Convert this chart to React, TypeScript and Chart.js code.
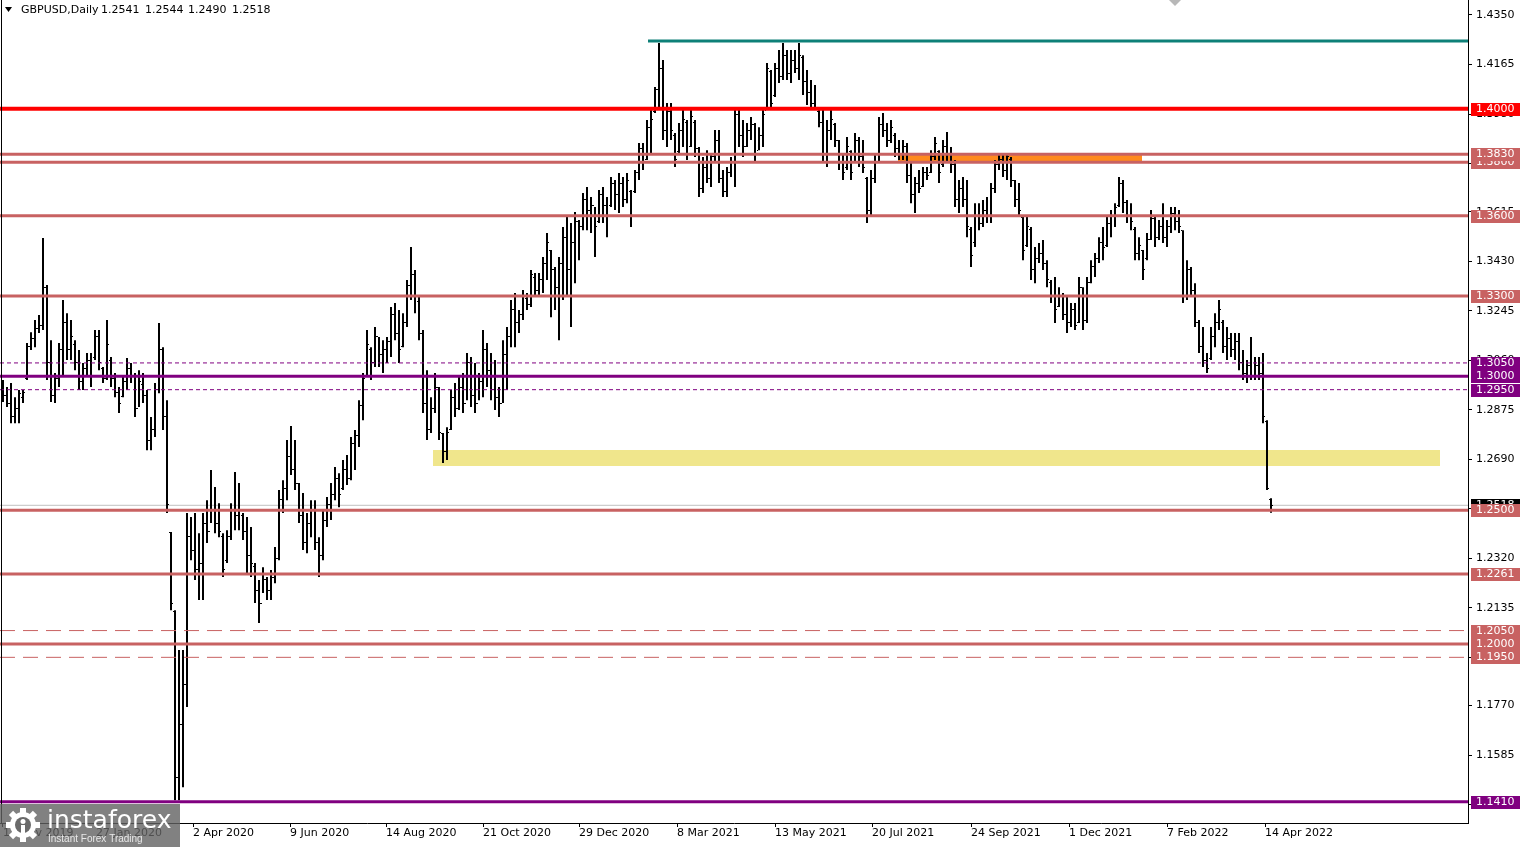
import React, { useEffect, useRef } from 'react';
import { Chart, registerables } from 'chart.js';

Chart.register(...registerables);

// ---- Data (2-day OHLC bars, GBPUSD) ----
const opens = [
  1.2960, 1.2930, 1.2900, 1.2850, 1.2880, 1.2920, 1.2990, 1.3110, 1.3140, 1.3180,
  1.3190, 1.3330, 1.3050, 1.2930, 1.2990, 1.3100, 1.3200, 1.3100, 1.3120, 1.3050,
  1.2980, 1.3030, 1.3060, 1.3070, 1.3150, 1.3030, 1.2990, 1.3060, 1.2990, 1.2940,
  1.2925, 1.2980, 1.3030, 1.3000, 1.2880, 1.2970, 1.2930, 1.2760, 1.2800, 1.2950,
  1.3100, 1.2850, 1.2418, 1.2120, 1.1500, 1.1700, 1.1850, 1.2400, 1.2350, 1.2280,
  1.2300, 1.2450, 1.2420, 1.2500, 1.2450, 1.2400, 1.2310, 1.2400, 1.2500, 1.2480,
  1.2480, 1.2420, 1.2330, 1.2290, 1.2200, 1.2150, 1.2240, 1.2200, 1.2250, 1.2320,
  1.2540, 1.2580, 1.2700, 1.2650, 1.2600, 1.2480, 1.2380, 1.2450, 1.2500, 1.2380,
  1.2330, 1.2460, 1.2520, 1.2560, 1.2620, 1.2580, 1.2650, 1.2620, 1.2750, 1.2780,
  1.2890, 1.3000, 1.3100, 1.3050, 1.3150, 1.3080, 1.3100, 1.3130, 1.3230, 1.3160,
  1.3110, 1.3200, 1.3340, 1.3380, 1.3280, 1.3160, 1.2900, 1.2800, 1.2880, 1.2960,
  1.2785, 1.2720, 1.2800, 1.2920, 1.2880, 1.2960, 1.2900, 1.3050, 1.2930, 1.2900,
  1.2980, 1.3100, 1.3020, 1.2950, 1.2920, 1.2900, 1.3080, 1.3150, 1.3250, 1.3200,
  1.3230, 1.3290, 1.3270, 1.3370, 1.3320, 1.3360, 1.3420, 1.3470, 1.3400, 1.3330,
  1.3420, 1.3520, 1.3400, 1.3500, 1.3580, 1.3560, 1.3660, 1.3620, 1.3640, 1.3580,
  1.3680, 1.3640, 1.3640, 1.3720, 1.3680, 1.3720, 1.3660, 1.3690, 1.3690, 1.3760,
  1.3850, 1.3810, 1.3930, 1.3990, 1.4070, 1.4150, 1.3920, 1.3990, 1.3900, 1.3840,
  1.3920, 1.3950, 1.3860, 1.3950, 1.3850, 1.3700, 1.3780, 1.3740, 1.3820, 1.3880,
  1.3740, 1.3690, 1.3760, 1.3800, 1.3980, 1.3900, 1.3860, 1.3920, 1.3940, 1.3845,
  1.3900, 1.3995, 1.4140, 1.4050, 1.4150, 1.4120, 1.4200, 1.4130, 1.4180, 1.4150,
  1.4190, 1.4100, 1.4060, 1.4020, 1.3990, 1.3950, 1.3830, 1.3920, 1.3940, 1.3880,
  1.3800, 1.3780, 1.3840, 1.3800, 1.3880, 1.3820, 1.3740, 1.3620, 1.3740, 1.3800,
  1.3940, 1.3920, 1.3880, 1.3900, 1.3850, 1.3830, 1.3860, 1.3750, 1.3680, 1.3720,
  1.3710, 1.3760, 1.3760, 1.3820, 1.3840, 1.3790, 1.3860, 1.3830, 1.3790, 1.3660,
  1.3700, 1.3660, 1.3550, 1.3500, 1.3600, 1.3570, 1.3620, 1.3600, 1.3700, 1.3790,
  1.3810, 1.3770, 1.3810, 1.3730, 1.3660, 1.3595, 1.3490, 1.3550, 1.3400, 1.3440,
  1.3460, 1.3420, 1.3350, 1.3300, 1.3260, 1.3300, 1.3230, 1.3200, 1.3250, 1.3200,
  1.3330, 1.3210, 1.3350, 1.3410, 1.3440, 1.3500, 1.3490, 1.3570, 1.3600, 1.3640,
  1.3720, 1.3650, 1.3600, 1.3550, 1.3460, 1.3470, 1.3440, 1.3510, 1.3590, 1.3520,
  1.3560, 1.3520, 1.3560, 1.3610, 1.3580, 1.3546, 1.3300, 1.3400, 1.3320, 1.3200,
  1.3110, 1.3060, 1.3065, 1.3150, 1.3200, 1.3200, 1.3110, 1.3140, 1.3100, 1.3130,
  1.3050, 1.3010, 1.3040, 1.3000, 1.3040, 1.3010, 1.2830, 1.2541,
];

const highs = [
  1.2986, 1.2960, 1.2975, 1.2922, 1.2949, 1.2949, 1.3124, 1.3165, 1.3210, 1.3229,
  1.3517, 1.3341, 1.3135, 1.3012, 1.3124, 1.3285, 1.3236, 1.3210, 1.3135, 1.3098,
  1.3050, 1.3087, 1.3087, 1.3173, 1.3173, 1.3035, 1.3210, 1.3072, 1.3012, 1.2960,
  1.2997, 1.3068, 1.3050, 1.3012, 1.3023, 1.3012, 1.2949, 1.2848, 1.2975, 1.3199,
  1.3109, 1.2911, 1.2418, 1.2126, 1.1977, 1.1977, 1.2489, 1.2474, 1.2489, 1.2414,
  1.2489, 1.2537, 1.2650, 1.2586, 1.2526, 1.2414, 1.2425, 1.2526, 1.2642, 1.2601,
  1.2489, 1.2474, 1.2437, 1.2302, 1.2239, 1.2287, 1.2250, 1.2276, 1.2362, 1.2575,
  1.2612, 1.2762, 1.2814, 1.2762, 1.2601, 1.2564, 1.2489, 1.2537, 1.2537, 1.2399,
  1.2500, 1.2549, 1.2601, 1.2661, 1.2638, 1.2687, 1.2706, 1.2773, 1.2799, 1.2911,
  1.3012, 1.3173, 1.3109, 1.3184, 1.3147, 1.3135, 1.3147, 1.3259, 1.3274, 1.3248,
  1.3236, 1.3360, 1.3483, 1.3397, 1.3296, 1.3173, 1.3023, 1.2922, 1.3012, 1.2960,
  1.2788, 1.2810, 1.2949, 1.2975, 1.2997, 1.3012, 1.3087, 1.3072, 1.3050, 1.3012,
  1.3173, 1.3124, 1.3087, 1.3061, 1.2960, 1.3135, 1.3184, 1.3285, 1.3311, 1.3248,
  1.3322, 1.3311, 1.3397, 1.3386, 1.3386, 1.3446, 1.3535, 1.3472, 1.3408, 1.3446,
  1.3558, 1.3595, 1.3573, 1.3614, 1.3584, 1.3685, 1.3707, 1.3670, 1.3633, 1.3696,
  1.3707, 1.3670, 1.3745, 1.3733, 1.3760, 1.3745, 1.3760, 1.3696, 1.3771, 1.3872,
  1.3872, 1.3958, 1.3995, 1.4081, 1.4245, 1.4182, 1.4021, 1.4021, 1.3909, 1.3946,
  1.3995, 1.3958, 1.3995, 1.3958, 1.3857, 1.3819, 1.3845, 1.3834, 1.3920, 1.3920,
  1.3771, 1.3782, 1.3819, 1.4006, 1.4006, 1.3958, 1.3946, 1.3969, 1.3946, 1.3931,
  1.3995, 1.4171, 1.4144, 1.4171, 1.4219, 1.4245, 1.4219, 1.4219, 1.4219, 1.4245,
  1.4200, 1.4144, 1.4107, 1.4088, 1.4006, 1.3995, 1.3958, 1.3995, 1.3946, 1.3883,
  1.3834, 1.3894, 1.3845, 1.3909, 1.3894, 1.3883, 1.3745, 1.3771, 1.3834, 1.3969,
  1.3984, 1.3946, 1.3958, 1.3909, 1.3883, 1.3883, 1.3872, 1.3797, 1.3745, 1.3771,
  1.3782, 1.3782, 1.3845, 1.3894, 1.3845, 1.3883, 1.3913, 1.3857, 1.3808, 1.3733,
  1.3745, 1.3733, 1.3558, 1.3647, 1.3647, 1.3659, 1.3670, 1.3722, 1.3808, 1.3834,
  1.3834, 1.3834, 1.3819, 1.3733, 1.3722, 1.3595, 1.3595, 1.3558, 1.3483, 1.3498,
  1.3509, 1.3434, 1.3360, 1.3371, 1.3333, 1.3311, 1.3296, 1.3274, 1.3274, 1.3371,
  1.3333, 1.3371, 1.3434, 1.3461, 1.3520, 1.3558, 1.3595, 1.3621, 1.3647, 1.3745,
  1.3733, 1.3659, 1.3647, 1.3558, 1.3520, 1.3472, 1.3535, 1.3621, 1.3595, 1.3584,
  1.3647, 1.3584, 1.3633, 1.3633, 1.3621, 1.3546, 1.3434, 1.3408, 1.3348, 1.3210,
  1.3184, 1.3087, 1.3184, 1.3236, 1.3285, 1.3210, 1.3184, 1.3162, 1.3162, 1.3162,
  1.3098, 1.3061, 1.3147, 1.3072, 1.3072, 1.3087, 1.2836, 1.2544,
];

const lows = [
  1.2904, 1.2885, 1.2825, 1.2825, 1.2825, 1.2900, 1.2986, 1.3098, 1.3109, 1.3162,
  1.3173, 1.2986, 1.2904, 1.2900, 1.2960, 1.2997, 1.3061, 1.3061, 1.3023, 1.2949,
  1.2949, 1.2997, 1.2960, 1.3061, 1.3023, 1.2975, 1.2986, 1.2960, 1.2922, 1.2863,
  1.2922, 1.2949, 1.2975, 1.2848, 1.2885, 1.2900, 1.2724, 1.2724, 1.2773, 1.2937,
  1.2799, 1.2489, 1.2126, 1.1416, 1.1416, 1.1465, 1.1764, 1.2313, 1.2239, 1.2164,
  1.2164, 1.2377, 1.2452, 1.2414, 1.2399, 1.2250, 1.2302, 1.2388, 1.2425, 1.2425,
  1.2388, 1.2265, 1.2250, 1.2153, 1.2078, 1.2190, 1.2164, 1.2164, 1.2227, 1.2313,
  1.2489, 1.2537, 1.2631, 1.2575, 1.2452, 1.2351, 1.2339, 1.2399, 1.2351, 1.2250,
  1.2313, 1.2437, 1.2463, 1.2537, 1.2511, 1.2575, 1.2594, 1.2612, 1.2650, 1.2736,
  1.2836, 1.2997, 1.2986, 1.3035, 1.3035, 1.3012, 1.3050, 1.3072, 1.3135, 1.3050,
  1.3109, 1.3184, 1.3285, 1.3236, 1.3135, 1.2863, 1.2762, 1.2788, 1.2863, 1.2762,
  1.2676, 1.2687, 1.2799, 1.2848, 1.2874, 1.2863, 1.2911, 1.2885, 1.2863, 1.2911,
  1.2922, 1.2960, 1.2911, 1.2874, 1.2848, 1.2900, 1.2949, 1.3109, 1.3109, 1.3162,
  1.3210, 1.3248, 1.3259, 1.3296, 1.3296, 1.3311, 1.3360, 1.3221, 1.3248, 1.3135,
  1.3285, 1.3296, 1.3184, 1.3348, 1.3434, 1.3546, 1.3546, 1.3535, 1.3446, 1.3573,
  1.3573, 1.3520, 1.3633, 1.3621, 1.3610, 1.3633, 1.3647, 1.3558, 1.3685, 1.3733,
  1.3771, 1.3808, 1.3834, 1.3984, 1.4006, 1.3883, 1.3857, 1.3883, 1.3782, 1.3834,
  1.3857, 1.3808, 1.3857, 1.3819, 1.3670, 1.3685, 1.3722, 1.3707, 1.3797, 1.3722,
  1.3670, 1.3670, 1.3745, 1.3707, 1.3857, 1.3819, 1.3857, 1.3883, 1.3797, 1.3845,
  1.3857, 1.3995, 1.3995, 1.4044, 1.4096, 1.4107, 1.4107, 1.4096, 1.4133, 1.4107,
  1.4051, 1.4014, 1.3995, 1.3995, 1.3931, 1.3797, 1.3782, 1.3883, 1.3857, 1.3771,
  1.3733, 1.3771, 1.3733, 1.3797, 1.3782, 1.3760, 1.3573, 1.3595, 1.3722, 1.3797,
  1.3894, 1.3857, 1.3872, 1.3819, 1.3808, 1.3808, 1.3722, 1.3647, 1.3610, 1.3685,
  1.3707, 1.3733, 1.3760, 1.3808, 1.3722, 1.3782, 1.3797, 1.3760, 1.3633, 1.3610,
  1.3633, 1.3520, 1.3408, 1.3483, 1.3546, 1.3558, 1.3573, 1.3573, 1.3685, 1.3771,
  1.3745, 1.3733, 1.3707, 1.3633, 1.3595, 1.3434, 1.3483, 1.3360, 1.3348, 1.3423,
  1.3397, 1.3333, 1.3274, 1.3199, 1.3259, 1.3210, 1.3162, 1.3184, 1.3173, 1.3199,
  1.3173, 1.3199, 1.3348, 1.3371, 1.3423, 1.3434, 1.3483, 1.3520, 1.3558, 1.3633,
  1.3610, 1.3573, 1.3546, 1.3434, 1.3434, 1.3360, 1.3434, 1.3509, 1.3483, 1.3509,
  1.3498, 1.3483, 1.3535, 1.3546, 1.3535, 1.3274, 1.3285, 1.3296, 1.3184, 1.3087,
  1.3035, 1.3012, 1.3061, 1.3109, 1.3173, 1.3087, 1.3061, 1.3072, 1.3061, 1.3023,
  1.2986, 1.2975, 1.2986, 1.2986, 1.2986, 1.2825, 1.2575, 1.2490,
];

const closes = [
  1.2930, 1.2900, 1.2850, 1.2880, 1.2935, 1.2940, 1.3110, 1.3140, 1.3180, 1.3190,
  1.3330, 1.3050, 1.2930, 1.2990, 1.3100, 1.3200, 1.3100, 1.3150, 1.3050, 1.2980,
  1.3030, 1.3060, 1.3000, 1.3150, 1.3050, 1.2990, 1.3120, 1.2990, 1.2940, 1.2900,
  1.2980, 1.3030, 1.3000, 1.2880, 1.2980, 1.2930, 1.2760, 1.2800, 1.2950, 1.3100,
  1.2850, 1.2520, 1.2150, 1.1500, 1.1700, 1.1850, 1.2400, 1.2350, 1.2280, 1.2300,
  1.2450, 1.2420, 1.2500, 1.2450, 1.2420, 1.2280, 1.2400, 1.2500, 1.2480, 1.2500,
  1.2420, 1.2330, 1.2300, 1.2200, 1.2150, 1.2240, 1.2200, 1.2250, 1.2320, 1.2540,
  1.2580, 1.2700, 1.2650, 1.2600, 1.2480, 1.2380, 1.2450, 1.2500, 1.2380, 1.2330,
  1.2460, 1.2520, 1.2560, 1.2620, 1.2560, 1.2650, 1.2620, 1.2750, 1.2780, 1.2890,
  1.2990, 1.3120, 1.3050, 1.3150, 1.3080, 1.3100, 1.3130, 1.3230, 1.3160, 1.3100,
  1.3200, 1.3340, 1.3380, 1.3300, 1.3160, 1.2900, 1.2800, 1.2880, 1.2960, 1.2790,
  1.2720, 1.2790, 1.2920, 1.2880, 1.2960, 1.2900, 1.3050, 1.2930, 1.2900, 1.2980,
  1.3100, 1.3020, 1.2950, 1.2920, 1.2900, 1.3080, 1.3150, 1.3250, 1.3200, 1.3230,
  1.3300, 1.3270, 1.3380, 1.3320, 1.3360, 1.3420, 1.3500, 1.3400, 1.3330, 1.3420,
  1.3520, 1.3400, 1.3500, 1.3580, 1.3560, 1.3660, 1.3620, 1.3640, 1.3560, 1.3680,
  1.3640, 1.3600, 1.3720, 1.3680, 1.3720, 1.3660, 1.3730, 1.3600, 1.3760, 1.3850,
  1.3800, 1.3930, 1.3960, 1.4070, 1.4150, 1.3920, 1.3990, 1.3920, 1.3810, 1.3920,
  1.3960, 1.3830, 1.3970, 1.3850, 1.3700, 1.3780, 1.3740, 1.3820, 1.3880, 1.3740,
  1.3690, 1.3760, 1.3800, 1.3980, 1.3900, 1.3860, 1.3920, 1.3940, 1.3830, 1.3900,
  1.3980, 1.4150, 1.4020, 1.4150, 1.4120, 1.4200, 1.4130, 1.4180, 1.4150, 1.4200,
  1.4100, 1.4060, 1.4020, 1.4000, 1.3950, 1.3830, 1.3920, 1.3960, 1.3880, 1.3800,
  1.3760, 1.3860, 1.3760, 1.3880, 1.3820, 1.3780, 1.3620, 1.3740, 1.3800, 1.3940,
  1.3920, 1.3880, 1.3930, 1.3850, 1.3830, 1.3860, 1.3750, 1.3680, 1.3720, 1.3700,
  1.3760, 1.3750, 1.3820, 1.3870, 1.3760, 1.3860, 1.3830, 1.3790, 1.3660, 1.3700,
  1.3660, 1.3560, 1.3450, 1.3600, 1.3570, 1.3620, 1.3600, 1.3700, 1.3790, 1.3810,
  1.3770, 1.3820, 1.3730, 1.3660, 1.3620, 1.3470, 1.3560, 1.3400, 1.3440, 1.3460,
  1.3420, 1.3360, 1.3300, 1.3250, 1.3300, 1.3230, 1.3200, 1.3250, 1.3190, 1.3330,
  1.3210, 1.3350, 1.3410, 1.3440, 1.3500, 1.3480, 1.3570, 1.3600, 1.3630, 1.3720,
  1.3650, 1.3600, 1.3580, 1.3460, 1.3490, 1.3400, 1.3510, 1.3590, 1.3520, 1.3560,
  1.3520, 1.3560, 1.3610, 1.3580, 1.3560, 1.3300, 1.3400, 1.3320, 1.3200, 1.3110,
  1.3060, 1.3030, 1.3150, 1.3200, 1.3250, 1.3110, 1.3140, 1.3100, 1.3130, 1.3050,
  1.3010, 1.3040, 1.3000, 1.3040, 1.3010, 1.2850, 1.2580, 1.2518,
];

// x-axis labels and the bar position each one is attached to
const xTickLabels = [
  '18 Nov 2019', '27 Jan 2020', '2 Apr 2020', '9 Jun 2020', '14 Aug 2020', '21 Oct 2020',
  '29 Dec 2020', '8 Mar 2021', '13 May 2021', '20 Jul 2021', '24 Sep 2021', '1 Dec 2021',
  '7 Feb 2022', '14 Apr 2022',
];
const xTickBars = [0, 23.25, 47.5, 71.75, 95.75, 120, 144, 168.5, 193, 217.25, 242, 266.5, 291, 315.5];

const yTickValues = [
  1.4350, 1.4165, 1.3980, 1.3795, 1.3615, 1.3430, 1.3245, 1.3060, 1.2875,
  1.2690, 1.2505, 1.2320, 1.2135, 1.1950, 1.1770, 1.1585, 1.1400,
];

// horizontal levels
const levelValues = [1.4000, 1.3830, 1.3800, 1.3600, 1.3300, 1.3050, 1.3000, 1.2950, 1.2500, 1.2261, 1.2050, 1.2000, 1.1950, 1.1410];
const levelKinds = ['red', 'ir', 'ir', 'ir', 'ir', 'pdash', 'purple', 'pdash', 'ir', 'ir', 'irdash', 'ir', 'irdash', 'purple'];

// teal resistance ray
const rayStart = [161.25];
const rayValue = [1.4253];

// rectangles
const zoneFrom = [107.5, 223.75];
const zoneTo = [359.25, 284.75];
const zoneHigh = [1.2724, 1.3832];
const zoneLow = [1.2664, 1.3802];
const zoneKinds = ['khaki', 'orange'];

const lastPrice = 1.2518;
const headerSymbol = 'GBPUSD,Daily';
const headerValues = ['1.2541', '1.2544', '1.2490', '1.2518'];

// ---- Styles ----
const X_MIN = -0.75;
const X_MAX = 366.25;
const Y_MIN = 1.1331;
const Y_MAX = 1.4406;
const FONT = '"DejaVu Sans", sans-serif';

const LEVEL_STYLE: Record<string, { color: string; width: number; dash: number[]; box: string }> = {
  red: { color: '#FF0000', width: 4, dash: [], box: '#FF0000' },
  ir: { color: '#C86262', width: 3, dash: [], box: '#C86262' },
  purple: { color: '#800080', width: 3, dash: [], box: '#800080' },
  pdash: { color: '#800080', width: 1, dash: [4, 3], box: '#800080' },
  irdash: { color: '#C86262', width: 1, dash: [15, 8], box: '#C86262' },
};
const ZONE_COLOR: Record<string, string> = { khaki: '#F0E68C', orange: '#FF8A1E' };

export default function App() {
  const canvasRef = useRef<HTMLCanvasElement | null>(null);

  useEffect(() => {
    document.body.style.margin = '0';
    const canvas = canvasRef.current;
    if (!canvas) return;

    const mkTick = (left: boolean) => {
      const c = document.createElement('canvas');
      c.width = 4;
      c.height = 1;
      const g = c.getContext('2d')!;
      g.fillStyle = '#000';
      g.fillRect(left ? 0 : 3, 0, 1, 1);
      return c;
    };
    const openImg = mkTick(true);
    const closeImg = mkTick(false);

    const zonePlugin = {
      id: 'zones',
      beforeDatasetsDraw(chart: any) {
        const { ctx, scales } = chart;
        const xs = scales.x;
        const ys = scales.y;
        ctx.save();
        for (let i = 0; i < zoneFrom.length; i++) {
          const x1 = xs.getPixelForValue(zoneFrom[i]);
          const x2 = xs.getPixelForValue(zoneTo[i]);
          const y1 = ys.getPixelForValue(zoneHigh[i]);
          const y2 = ys.getPixelForValue(zoneLow[i]);
          ctx.fillStyle = ZONE_COLOR[zoneKinds[i]];
          ctx.fillRect(Math.round(x1), Math.round(y1), Math.round(x2 - x1), Math.round(y2 - y1));
        }
        ctx.restore();
      },
    };

    const overlayPlugin = {
      id: 'overlay',
      afterDraw(chart: any) {
        const { ctx, scales, chartArea } = chart;
        const ys = scales.y;
        ctx.save();
        // left frame
        ctx.fillStyle = '#000';
        ctx.fillRect(1, 0, 1, chartArea.bottom);
        // shift marker
        ctx.fillStyle = '#B8B8B8';
        ctx.beginPath();
        ctx.moveTo(1169, 0);
        ctx.lineTo(1181, 0);
        ctx.lineTo(1175, 6);
        ctx.closePath();
        ctx.fill();

        // price labels
        ctx.font = `11px ${FONT}`;
        ctx.textBaseline = 'middle';
        ctx.textAlign = 'left';
        const box = (v: number, fill: string, text: string) => {
          const y = Math.round(ys.getPixelForValue(v));
          ctx.fillStyle = fill;
          ctx.fillRect(1471, y - 6, 49, 13);
          ctx.fillStyle = '#fff';
          ctx.fillText(text, 1476, y + 0.5);
        };
        box(lastPrice, '#000', lastPrice.toFixed(4));
        const order = levelValues.map((v, i) => i).sort((a, b) => levelValues[a] - levelValues[b]);
        for (const i of order) {
          box(levelValues[i], LEVEL_STYLE[levelKinds[i]].box, levelValues[i].toFixed(4));
        }

        // header
        ctx.fillStyle = '#000';
        ctx.beginPath();
        ctx.moveTo(5, 7);
        ctx.lineTo(12, 7);
        ctx.lineTo(8.5, 12);
        ctx.closePath();
        ctx.fill();
        ctx.fillText(headerSymbol, 21, 10.5);
        const hx = [101, 145, 188, 232];
        headerValues.forEach((t, i) => ctx.fillText(t, hx[i], 10.5));

        // watermark
        ctx.fillStyle = 'rgba(98,98,98,0.8)';
        ctx.fillRect(0, 804, 180, 43);
        ctx.translate(23, 825);
        ctx.fillStyle = '#fff';
        for (let k = 0; k < 8; k++) {
          ctx.rotate(Math.PI / 4);
          ctx.fillRect(-3, -17, 6, 6);
        }
        ctx.beginPath();
        ctx.arc(0, 0, 13, 0, Math.PI * 2);
        ctx.fill();
        ctx.fillStyle = '#6a6a6a';
        ctx.beginPath();
        ctx.arc(0, 0, 8, 0, Math.PI * 2);
        ctx.fill();
        ctx.fillStyle = '#fff';
        ctx.beginPath();
        ctx.arc(0, -3.5, 2.5, 0, Math.PI * 2);
        ctx.fill();
        ctx.fillRect(-2, 0, 4, 8);
        ctx.setTransform(1, 0, 0, 1, 0, 0);
        ctx.fillStyle = '#fff';
        ctx.textBaseline = 'alphabetic';
        ctx.font = `25px ${FONT}`;
        ctx.fillText('instaforex', 47, 828);
        ctx.fillStyle = '#e8e8e8';
        ctx.font = '10px "Liberation Sans", sans-serif';
        ctx.fillText('Instant Forex Trading', 48, 842);
        ctx.restore();
      },
    };

    const stemData = highs.map((h, i) => ({ x: i, y: [lows[i], h] }));
    const openData = opens.map((v, i) => ({ x: i, y: v }));
    const closeData = closes.map((v, i) => ({ x: i, y: v }));

    const levelSets = levelValues.map((v, i) => {
      const st = LEVEL_STYLE[levelKinds[i]];
      return {
        type: 'line',
        data: [{ x: X_MIN, y: v }, { x: X_MAX, y: v }],
        borderColor: st.color,
        borderWidth: st.width,
        borderDash: st.dash,
        pointRadius: 0,
        fill: false,
        order: 1,
      };
    });
    const raySets = rayStart.map((s, i) => ({
      type: 'line',
      data: [{ x: s, y: rayValue[i] }, { x: X_MAX, y: rayValue[i] }],
      borderColor: '#0E8078',
      borderWidth: 3,
      pointRadius: 0,
      fill: false,
      order: 1,
    }));
    const priceLine = {
      type: 'line',
      data: [{ x: X_MIN, y: lastPrice }, { x: X_MAX, y: lastPrice }],
      borderColor: '#C0C0C0',
      borderWidth: 1,
      pointRadius: 0,
      fill: false,
      order: 6,
    };

    const chart = new Chart(canvas, {
      type: 'bar',
      data: {
        datasets: [
          priceLine,
          {
            type: 'bar',
            data: stemData,
            backgroundColor: '#000',
            borderWidth: 0,
            barThickness: 2,
            grouped: false,
            inflateAmount: 0,
            order: 5,
          },
          {
            type: 'scatter',
            data: openData,
            pointStyle: openImg,
            pointRadius: 1,
            pointHoverRadius: 1,
            order: 4,
          },
          {
            type: 'scatter',
            data: closeData,
            pointStyle: closeImg,
            pointRadius: 1,
            pointHoverRadius: 1,
            order: 4,
          },
          ...levelSets,
          ...raySets,
        ] as any,
      },
      options: {
        animation: false,
        responsive: false,
        devicePixelRatio: 1,
        events: [],
        layout: { padding: 0, autoPadding: false },
        plugins: {
          legend: { display: false },
          tooltip: { enabled: false },
          title: { display: false },
        },
        scales: {
          x: {
            type: 'linear',
            position: 'bottom',
            min: X_MIN,
            max: X_MAX,
            offset: false,
            afterBuildTicks: (s: any) => {
              s.ticks = xTickBars.map((v) => ({ value: v }));
            },
            afterFit: (s: any) => {
              s.height = 24;
              s.paddingLeft = 0;
              s.paddingRight = 0;
            },
            ticks: {
              autoSkip: false,
              maxRotation: 0,
              minRotation: 0,
              align: 'start',
              padding: 0,
              color: '#000',
              font: { family: FONT, size: 11 },
              callback: (_v: any, idx: number) => xTickLabels[idx],
            },
            grid: { drawOnChartArea: false, drawTicks: true, tickLength: 4, color: '#000', offset: false },
            border: { display: true, color: '#000', width: 1 },
          },
          y: {
            type: 'linear',
            position: 'right',
            min: Y_MIN,
            max: Y_MAX,
            afterBuildTicks: (s: any) => {
              s.ticks = yTickValues.map((v) => ({ value: v }));
            },
            afterFit: (s: any) => {
              s.width = 56;
              s.paddingTop = 0;
              s.paddingBottom = 0;
            },
            ticks: {
              padding: 4,
              color: '#000',
              font: { family: FONT, size: 11 },
              callback: (v: any) => Number(v).toFixed(4),
            },
            grid: { drawOnChartArea: false, drawTicks: true, tickLength: 4, color: '#000' },
            border: { display: true, color: '#000', width: 1 },
          },
        },
      } as any,
      plugins: [zonePlugin, overlayPlugin],
    });

    return () => chart.destroy();
  }, []);

  return (
    <div style={{ width: 1524, height: 847, background: '#fff' }}>
      <canvas ref={canvasRef} width={1524} height={847} style={{ display: 'block', width: 1524, height: 847 }} />
    </div>
  );
}
